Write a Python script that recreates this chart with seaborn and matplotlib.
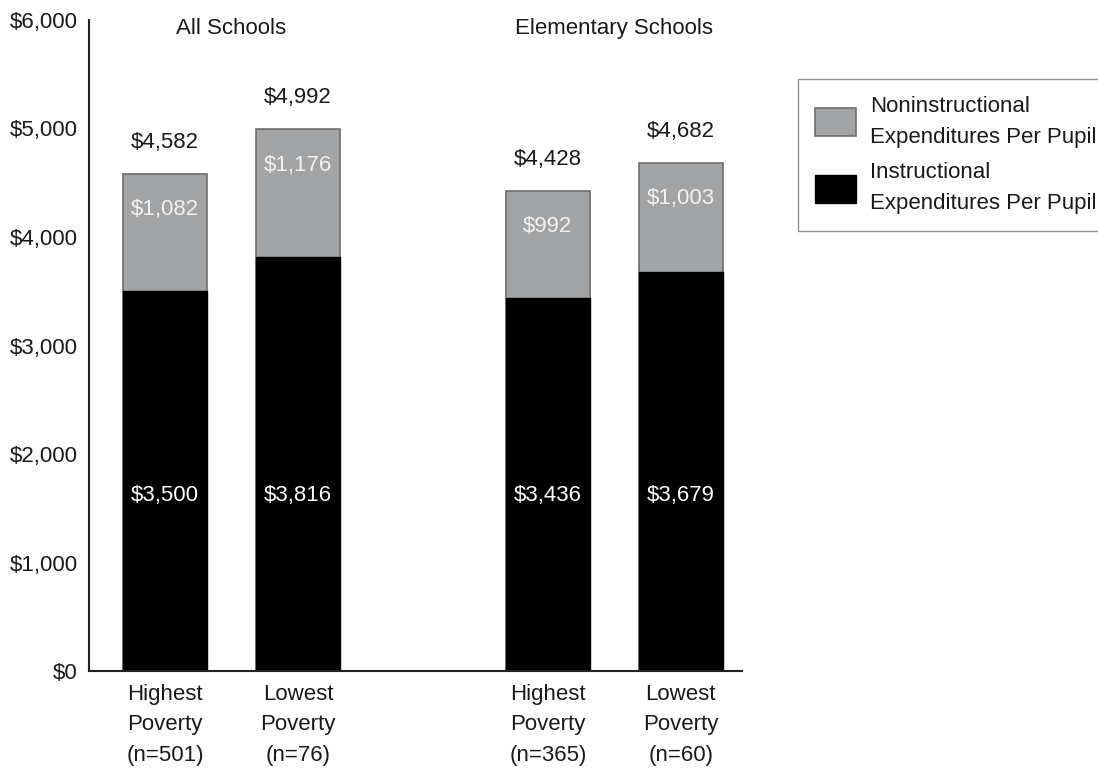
import numpy as np
import pandas as pd
import matplotlib
matplotlib.use("Agg")
import matplotlib.pyplot as plt
import seaborn as sns
from matplotlib.patches import Patch

# dane
groups = ["All Schools", "Elementary Schools"]
bar_labels = ["Highest\nPoverty\n(n=501)", "Lowest\nPoverty\n(n=76)",
              "Highest\nPoverty\n(n=365)", "Lowest\nPoverty\n(n=60)"]
instructional = [3500, 3816, 3436, 3679]
noninstructional = [1082, 1176, 992, 1003]
totals = [4582, 4992, 4428, 4682]
y_ticks = [0, 1000, 2000, 3000, 4000, 5000, 6000]

# pozycje slupkow (przerwa miedzy grupami)
positions = [0, 1, 2.88, 3.88]

df = pd.DataFrame({"pos": positions, "instr": instructional,
                   "total": totals, "nonin": noninstructional})

sns.set_style("white")
plt.rcParams['font.family'] = ['Liberation Sans', 'DejaVu Sans']

fig = plt.figure(figsize=(10.98, 7.78), dpi=100)
ax = fig.add_axes([0.0811, 0.1375, 0.5947, 0.8368])

gray = "#a2a3a5"
sns.barplot(data=df, x="pos", y="total", native_scale=True, width=0.63,
            color=gray, saturation=1, edgecolor="#6e6e6e", linewidth=1.2,
            errorbar=None, ax=ax)
sns.barplot(data=df, x="pos", y="instr", native_scale=True, width=0.63,
            color="black", saturation=1, edgecolor="black", linewidth=1.0,
            errorbar=None, ax=ax)

fs = 16
ax.set_ylim(0, 6000)
ax.set_xlim(-0.571, 4.34)
ax.set_yticks(y_ticks)
ax.set_yticklabels(["${:,}".format(v) for v in y_ticks], fontsize=fs, color="#1a1a1a")
ax.set_xticks(positions)
ax.set_xticklabels(bar_labels, fontsize=fs, color="#1a1a1a", linespacing=1.62)
ax.tick_params(axis="both", length=0, pad=8)
ax.tick_params(axis="x", pad=9)
ax.set_xlabel("")
ax.set_ylabel("")

for s in ["top", "right"]:
    ax.spines[s].set_visible(False)
for s in ["left", "bottom"]:
    ax.spines[s].set_color("#222222")
    ax.spines[s].set_linewidth(1.5)

# etykiety wartosci
for p, t, n, i in zip(positions, totals, noninstructional, instructional):
    ax.text(p, t + 290, "${:,}".format(t), ha="center", va="center",
            fontsize=fs, color="#1a1a1a")
    ax.text(p, t - 330, "${:,}".format(n), ha="center", va="center",
            fontsize=fs, color="#f2f2f2")
    ax.text(p, 1620, "${:,}".format(i), ha="center", va="center",
            fontsize=fs, color="white")

# tytuly grup
ax.text((positions[0] + positions[1]) / 2, 5920, groups[0], ha="center",
        va="center", fontsize=fs, color="#1a1a1a")
ax.text((positions[2] + positions[3]) / 2, 5920, groups[1], ha="center",
        va="center", fontsize=fs, color="#1a1a1a")

handles = [Patch(facecolor=gray, edgecolor="#6e6e6e", linewidth=1.2),
           Patch(facecolor="black", edgecolor="black")]
leg = fig.legend(handles, ["Noninstructional\nExpenditures Per Pupil",
                           "Instructional\nExpenditures Per Pupil"],
                 loc="upper left", bbox_to_anchor=(798 / 1098, 1 - 79 / 778),
                 fontsize=fs, frameon=True, fancybox=False,
                 handlelength=1.86, handleheight=1.55, handletextpad=0.65,
                 labelspacing=0.65, borderpad=0.75, borderaxespad=0)
leg.get_frame().set_edgecolor("#777777")
leg.get_frame().set_linewidth(1.0)
for t in leg.get_texts():
    t.set_color("#1a1a1a")
    t.set_linespacing(1.62)

plt.savefig("out.png", dpi=100)
